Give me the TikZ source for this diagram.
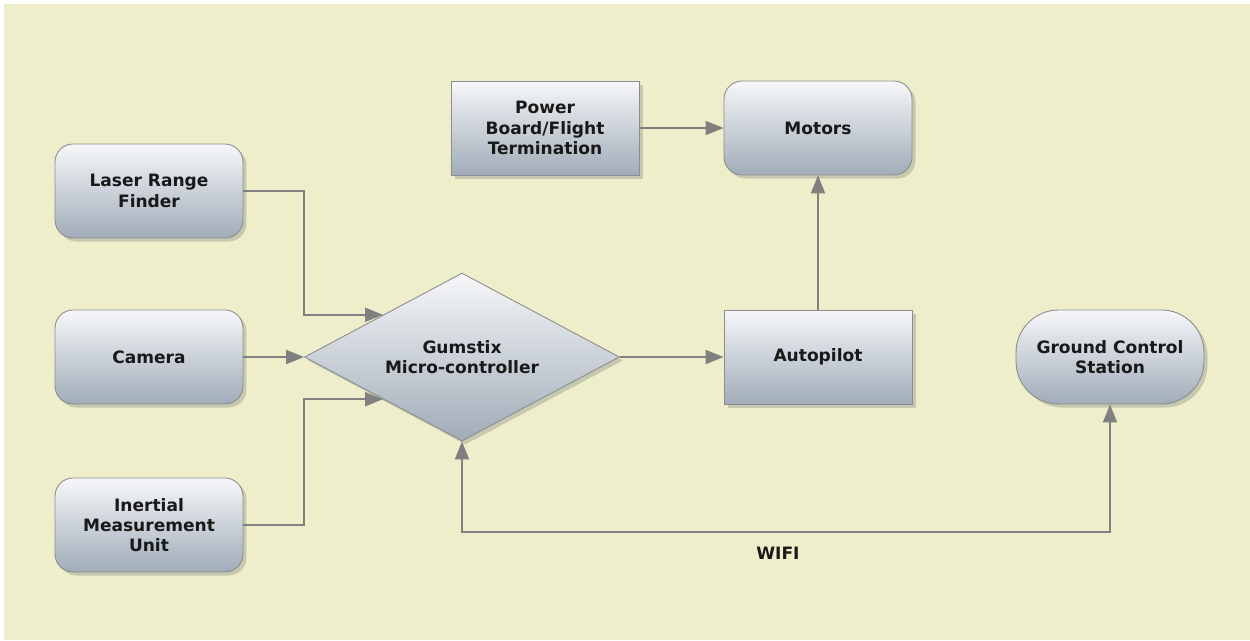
\documentclass[tikz,border=0pt]{standalone}
\usepackage{fontspec}
\setmainfont{DejaVu Sans}
\usetikzlibrary{positioning,arrows.meta,shapes.geometric,shadows}
\definecolor{paper}{RGB}{238,239,202}
\definecolor{boxtop}{RGB}{246,247,249}
\definecolor{boxbottom}{RGB}{160,172,184}
\definecolor{boxline}{RGB}{140,140,140}
\definecolor{linkgray}{RGB}{128,128,128}
\definecolor{ink}{RGB}{25,25,25}
\tikzset{
    x=0.02cm,
    y=-0.02cm,
    box/.style = {
        draw=boxline,
        shape=rectangle,
        line width=0.5pt,
        top color=boxtop,
        bottom color=boxbottom,
        drop shadow={shadow xshift=2pt, shadow yshift=-2pt, opacity=0.35},
        minimum height=1.88cm,
        minimum width=3.76cm,
        align=center,
        text=ink,
        font=\fontsize{9.7}{11.5}\selectfont\bfseries
    },
    rbox/.style = {
        box,
        rounded corners=0.36cm
    },
    terminal/.style = {
        box,
        rounded corners=0.85cm
    },
    decision/.style = {
        box,
        shape=diamond,
        aspect=1.875,
        inner sep=0pt,
        minimum width=6.3cm,
        minimum height=3.36cm
    },
    tag/.style = {
        text=ink,
        font=\fontsize{9.7}{11.5}\selectfont\bfseries
    },
    link/.style = {
        draw=linkgray,
        line width=1.1pt
    },
    >={Triangle[length=0.36cm,width=0.28cm]},
}
\begin{document}
\begin{tikzpicture}
                \path[fill=white] (0,0) rectangle (1250,640);
                \path[fill=paper] (4,4) rectangle (1250,640);

                \node[rbox] (laser) at (149,191) {Laser Range\\Finder};
                \node[rbox] (camera) at (149,357) {Camera};
                \node[rbox] (imu) at (149,525) {Inertial\\Measurement\\Unit};
                \node[box] (power) at (545,128) {Power\\Board/Flight\\Termination};
                \node[rbox] (motors) at (818,128) {Motors};
                \node[decision] (gumstix) at (462,357) {Gumstix\\Micro-controller};
                \node[box] (autopilot) at (818,357) {Autopilot};
                \node[terminal] (ground) at (1110,357) {Ground Control\\Station};

                \path[link, ->] (laser) -| (gumstix.west |- gumstix.north west) -- (gumstix.north west);
                \path[link, ->] (camera) -- (gumstix);
                \path[link, ->] (imu) -| (gumstix.west |- gumstix.south west) -- (gumstix.south west);
                \path[link, ->] (gumstix) -- (autopilot);
                \path[link, ->] (autopilot) -- (motors);
                \path[link, ->] (power) -- (motors);

                \coordinate (wifibus) at (785,532);
                \path[link, <->] (gumstix.south) |- (wifibus) -| (ground.south);
                \node[tag] (wifi) at (778,553) {WIFI};
            \end{tikzpicture}
\end{document}
